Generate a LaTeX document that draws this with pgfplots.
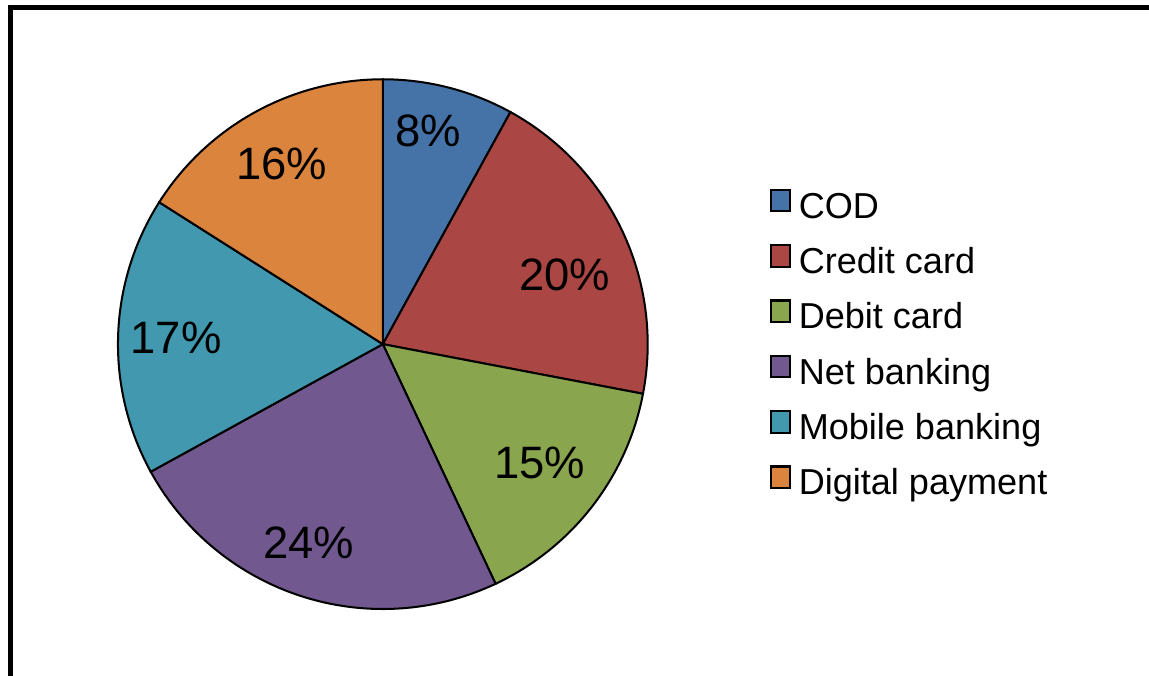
\documentclass[border=0pt]{standalone}
\usepackage{pgfplots}
\pgfplotsset{compat=1.18}
\usepackage{fontspec}
\setmainfont{Liberation Sans}
\definecolor{cA}{HTML}{4572A7}
\definecolor{cB}{HTML}{AA4643}
\definecolor{cC}{HTML}{89A54E}
\definecolor{cD}{HTML}{71588F}
\definecolor{cE}{HTML}{4198AF}
\definecolor{cF}{HTML}{DB843D}
\begin{document}
\begin{tikzpicture}[x=0.013925cm,y=0.013925cm]
\useasboundingbox (0,0) rectangle (1149,675);
\draw[line width=2pt] (10.5,-20) -- (10.5,667.5) -- (1170,667.5);
% shares in percent
\def\pA{8}\def\pB{20}\def\pC{15}\def\pD{24}\def\pE{17}\def\pF{16}
\pgfmathsetmacro\aA{90}
\pgfmathsetmacro\aB{\aA-3.6*\pA}
\pgfmathsetmacro\aC{\aB-3.6*\pB}
\pgfmathsetmacro\aD{\aC-3.6*\pC}
\pgfmathsetmacro\aE{\aD-3.6*\pD}
\pgfmathsetmacro\aF{\aE-3.6*\pE}
\pgfmathsetmacro\aG{\aF-3.6*\pF}
\begin{axis}[at={(5.3333cm,4.6092cm)}, anchor=origin,
  x=3.690cm, y=3.690cm, xmin=-1, xmax=1, ymin=-1, ymax=1,
  hide axis, clip=false,
  legend image code/.code={\draw[#1,draw=black,line width=0.9pt] (0cm,-0.03cm) rectangle (0.27cm,0.27cm);},
  legend style={at={(axis cs:1.458,-0.005)}, anchor=west, draw=none, fill=none, inner sep=0pt,
    font=\fontsize{14.3pt}{17pt}\selectfont, row sep=7.3pt,
    nodes={inner sep=0pt, text height=10pt, text depth=3pt},
    /tikz/every odd column/.append style={column sep=3pt}},
  legend cell align=left,
  every axis plot/.append style={draw=black, line width=0.8pt, samples=60, variable=\t}]
\addplot[fill=cA, domain=\aB:\aA] ({cos(t)},{sin(t)}) -- (axis cs:0,0) -- cycle;
\addlegendentry{COD}
\addplot[fill=cB, domain=\aC:\aB] ({cos(t)},{sin(t)}) -- (axis cs:0,0) -- cycle;
\addlegendentry{Credit card}
\addplot[fill=cC, domain=\aD:\aC] ({cos(t)},{sin(t)}) -- (axis cs:0,0) -- cycle;
\addlegendentry{Debit card}
\addplot[fill=cD, domain=\aE:\aD] ({cos(t)},{sin(t)}) -- (axis cs:0,0) -- cycle;
\addlegendentry{Net banking}
\addplot[fill=cE, domain=\aF:\aE] ({cos(t)},{sin(t)}) -- (axis cs:0,0) -- cycle;
\addlegendentry{Mobile banking}
\addplot[fill=cF, domain=\aG:\aF] ({cos(t)},{sin(t)}) -- (axis cs:0,0) -- cycle;
\addlegendentry{Digital payment}
\begin{scope}[font=\fontsize{18pt}{20pt}\selectfont]
\node at (axis cs:0.170,0.804) {\pA\%};
\node at (axis cs:0.687,0.260) {\pB\%};
\node at (axis cs:0.592,-0.449) {\pC\%};
\node at (axis cs:-0.279,-0.751) {\pD\%};
\node at (axis cs:-0.781,0.023) {\pE\%};
\node at (axis cs:-0.381,0.679) {\pF\%};
\end{scope}
\end{axis}
\end{tikzpicture}
\end{document}
